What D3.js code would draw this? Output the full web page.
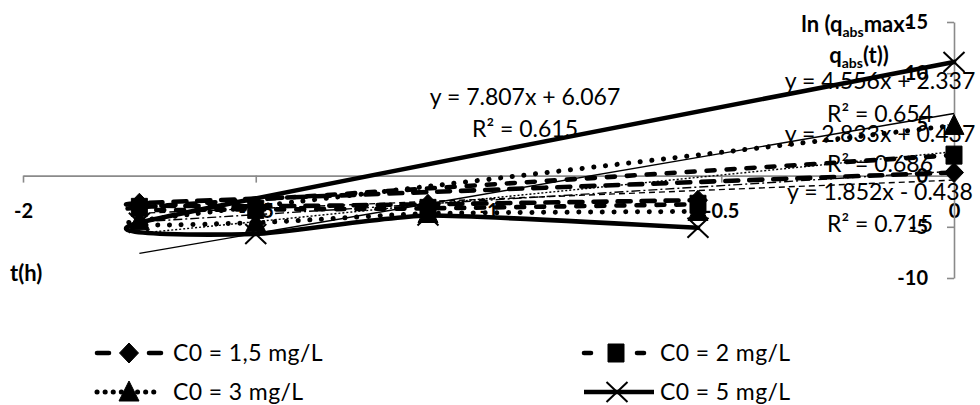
<!DOCTYPE html>
<html>
<head>
<meta charset="utf-8">
<script src="https://cdn.jsdelivr.net/npm/d3@7"></script>
<style>
  body { margin: 0; background: #fff; }
  svg { display: block; font-family: Lato, "Open Sans", sans-serif; }
</style>
</head>
<body>
<svg id="chart" width="980" height="405"></svg>
<script>
// ln(t) of each sampling time, in the order the readings were entered
const times = [0, -1.75, -1.5, -1.13, -0.55];

const seriesNames = ["C0 = 1,5 mg/L", "C0 = 2 mg/L", "C0 = 3 mg/L", "C0 = 5 mg/L"];
// ln(qabs max - qabs(t)) for each initial concentration
const c15 = [0.3, -2.7, -3.0, -2.8, -2.4];
const c2  = [2.0, -3.1, -3.3, -3.2, -2.8];
const c3  = [4.9, -4.4, -4.6, -3.7, -3.5];
const c5  = [11.1, -4.6, -5.7, -3.9, -5.1];

// linear trend lines fitted to each series
const slopes     = [1.852, 2.833, 4.556, 7.807];
const intercepts = [-0.438, 0.437, 2.337, 6.067];
const rSquared   = [0.715, 0.686, 0.654, 0.615];

const xTicks = [-2, -1.5, -1, -0.5, 0];
const yTicks = [15, 10, 5, 0, -5, -10];

const svg = d3.select("#chart");
const x = d3.scaleLinear().domain([-2, 0]).range([23, 954]);
const y = d3.scaleLinear().domain([-10, 15]).range([278, 22]);
const axisColor = "#8a8a8a";
const fmt = d => String(d);

// axes
const xAxis = svg.append("g")
  .attr("transform", `translate(0,${y(0)})`)
  .call(d3.axisBottom(x).tickValues(xTicks).tickFormat(fmt).tickSize(7).tickSizeOuter(0).tickPadding(21));
const yAxis = svg.append("g")
  .attr("transform", `translate(${x(0)},0)`)
  .call(d3.axisLeft(y).tickValues(yTicks).tickFormat(fmt).tickSize(7).tickSizeOuter(0).tickPadding(19));
[xAxis, yAxis].forEach(g => {
  g.select(".domain").attr("stroke", axisColor).attr("stroke-width", 1.6);
  g.selectAll(".tick line").attr("stroke", axisColor).attr("stroke-width", 1.6);
  g.selectAll(".tick text").attr("fill", "#000").attr("font-size", 20)
    .attr("font-weight", "bold").attr("font-family", "Lato, sans-serif");
});

// axis titles
svg.append("text").attr("x", 10).attr("y", 281)
  .attr("font-size", 22).attr("font-weight", "bold").text("t(h)");
const yTitle = svg.append("text").attr("text-anchor", "middle")
  .attr("font-size", 22).attr("font-weight", "bold");
const l1 = yTitle.append("tspan").attr("x", 857).attr("y", 32);
l1.append("tspan").text("ln (q");
l1.append("tspan").attr("font-size", 14).attr("dy", 5).text("abs");
l1.append("tspan").attr("dy", -5).text("max-");
const l2 = yTitle.append("tspan").attr("x", 859).attr("y", 63);
l2.append("tspan").text("q");
l2.append("tspan").attr("font-size", 14).attr("dy", 5).text("abs");
l2.append("tspan").attr("dy", -5).text("(t))");

// series definitions
const series = [
  { name: seriesNames[0], vals: c15, dash: "13,11", width: 4.6, marker: "diamond" },
  { name: seriesNames[1], vals: c2,  dash: "8,12",  width: 4.6, marker: "square" },
  { name: seriesNames[2], vals: c3,  dash: "0.1,11.6", width: 5, marker: "triangle" },
  { name: seriesNames[3], vals: c5,  dash: null,    width: 4.6, marker: "cross" }
];
series.forEach((s, i) => {
  s.points = times.map((t, j) => [t, s.vals[j]]);
  s.slope = slopes[i]; s.intercept = intercepts[i]; s.r2 = rSquared[i];
});

function markerPath(type) {
  switch (type) {
    case "diamond": return "M0,-10L9.5,0L0,10L-9.5,0Z";
    case "square": return "M-8,-9H8V9H-8Z";
    case "triangle": return "M0,-11L10,9H-10Z";
    case "cross": return "M-10.5,-10L10.5,10M-10.5,10L10.5,-10";
  }
}
function drawMarker(g, type, cx, cy) {
  const p = g.append("path").attr("d", markerPath(type))
    .attr("transform", `translate(${cx},${cy})`);
  if (type === "cross") p.attr("fill", "none").attr("stroke", "#000").attr("stroke-width", 2);
  else p.attr("fill", "#000").attr("stroke", "#000").attr("stroke-width", 1);
}

// smoothed connecting lines
const line = d3.line().x(d => x(d[0])).y(d => y(d[1])).curve(d3.curveCardinal.tension(0.5));

// series lines
const plot = svg.append("g");
series.forEach(s => {
  plot.append("path").datum(s.points).attr("d", line)
    .attr("fill", "none").attr("stroke", "#000").attr("stroke-width", s.width)
    .attr("stroke-linecap", "round").attr("stroke-linejoin", "round")
    .attr("stroke-dasharray", s.dash);
  s.points.forEach(p => drawMarker(plot, s.marker, x(p[0]), y(p[1])));
});

// trend lines across the sampled range
const [tMin, tMax] = d3.extent(times);
const trendDash = ["6,4", "9,3,2,3", "2,2", null];
const trendLine = d3.line().x(d => x(d[0])).y(d => y(d[1]));
series.forEach((s, i) => {
  const pts = [tMin, tMax].map(t => [t, s.slope * t + s.intercept]);
  plot.append("path").datum(pts).attr("d", trendLine)
    .attr("fill", "none").attr("stroke", "#000").attr("stroke-width", 1.4)
    .attr("stroke-dasharray", trendDash[i]);
});

// trend line equations
const eqPos = [[880, 200, 232], [880, 142, 172], [880, 89, 122], [525, 105, 137]];
series.forEach((s, i) => {
  const [cx, y1, y2] = eqPos[i];
  const sign = s.intercept < 0 ? "-" : "+";
  svg.append("text").attr("x", cx).attr("y", y1).attr("text-anchor", "middle")
    .attr("font-size", 23)
    .text(`y = ${s.slope.toFixed(3)}x ${sign} ${Math.abs(s.intercept).toFixed(3)}`);
  svg.append("text").attr("x", cx).attr("y", y2).attr("text-anchor", "middle")
    .attr("font-size", 23).text(`R² = ${s.r2.toFixed(3)}`);
});

// legend
const legendPos = [[97, 353], [584, 353], [97, 392], [584, 392]];
const legend = svg.append("g");
series.forEach((s, i) => {
  const [lx, ly] = legendPos[i];
  const len = s.dash ? 64 : 70;
  legend.append("line").attr("x1", lx).attr("x2", lx + len).attr("y1", ly).attr("y2", ly)
    .attr("stroke", "#000").attr("stroke-width", s.width)
    .attr("stroke-linecap", s.dash ? "round" : "butt")
    .attr("stroke-dasharray", s.dash ? (s.marker === "triangle" ? "0.1,8" : s.marker === "diamond" ? "12,40" : "7,46") : null);
  drawMarker(legend, s.marker, lx + (s.dash ? len / 2 : 33), ly);
  legend.append("text").attr("x", lx + 76).attr("y", ly).attr("dy", "0.35em")
    .attr("font-size", 23).attr("letter-spacing", 0.4).text(s.name);
});
</script>
</body>
</html>
